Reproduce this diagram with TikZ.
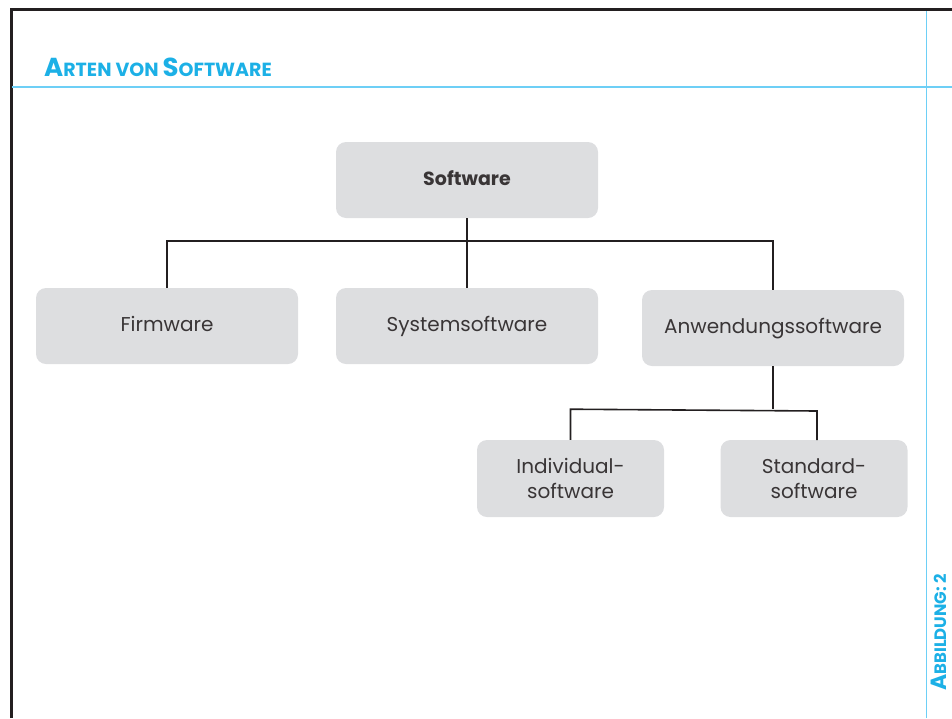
\documentclass[tikz,border=0pt]{standalone}
\usepackage{fontspec}
\setmainfont{Poppins}
\usepackage{tikz}
\usetikzlibrary{positioning, calc}

\definecolor{titelblau}{HTML}{1CB0E6}
\definecolor{linienblau}{HTML}{6DCFF6}
\definecolor{kastengrau}{HTML}{DDDEE0}
\definecolor{liniengrau}{HTML}{231F20}

\begin{document}
\begin{tikzpicture}[x=1pt, y=-1pt, font=\fontsize{20}{25}\selectfont,
	kasten/.style={fill=kastengrau, rounded corners=10pt, minimum width=262pt, minimum height=76pt, align=center, text=liniengrau!90},
	einzeilig/.style={kasten, text height=1.1em, text depth=0em},
	kleinkasten/.style={kasten, minimum width=187pt, minimum height=77pt},
	verbinder/.style={draw=liniengrau, line width=1.6pt}]
				\useasboundingbox (0,0) rectangle (952,718);
				% Rahmen und Hilfslinien
				\draw[line width=3pt, liniengrau] (11,718) -- (11,9.5) -- (952,9.5);
				\draw[line width=1.5pt, linienblau] (12,87) -- (952,87);
				\draw[line width=1.5pt, linienblau] (926.5,11) -- (926.5,718);
				\node[anchor=base west, inner sep=0pt, text=titelblau, font=\bfseries] (titel) at (44,76) {{\fontsize{26}{26}\selectfont A}{\fontsize{19}{19}\selectfont RTEN VON }{\fontsize{26}{26}\selectfont S}{\fontsize{19}{19}\selectfont OFTWARE}};
				\node[anchor=base west, inner sep=0pt, text=titelblau, font=\bfseries, rotate=90] (abb) at (946,691) {{\fontsize{22}{22}\selectfont A}{\fontsize{16.5}{16.5}\selectfont BBILDUNG: 2}};
				
				% Kaesten
				\node[einzeilig, font=\fontsize{19}{24}\selectfont\bfseries] (sw) at (467,180) {Software};
				\node[einzeilig] (fw) at (167,326) {Firmware};
				\node[einzeilig] (sys) at (467,326) {Systemsoftware};
				\node[einzeilig] (anw) at (773,328) {Anwendungssoftware};
				\node[kleinkasten] (ind) at (570.5,478.5) {Individual-\\software};
				\node[kleinkasten] (std) at (814,478.5) {Standard-\\software};
				
				% Verbindungen
				\coordinate (oben) at ($(sw.south)+(0,23)$);
				\draw[verbinder] (sw.south) -- (oben);
				\draw[verbinder] (fw.north) -- (fw.north |- oben) -- (anw.north |- oben) -- (anw.north);
				\draw[verbinder] (oben) -- (sys.north);
				\coordinate (unten) at ($(anw.south)+(0,43)$);
				\draw[verbinder] (anw.south) -- (unten);
				\draw[verbinder] (ind.north) -- (ind.north |- unten) -- (817,411) -- (817,440);
			\end{tikzpicture}
\end{document}
